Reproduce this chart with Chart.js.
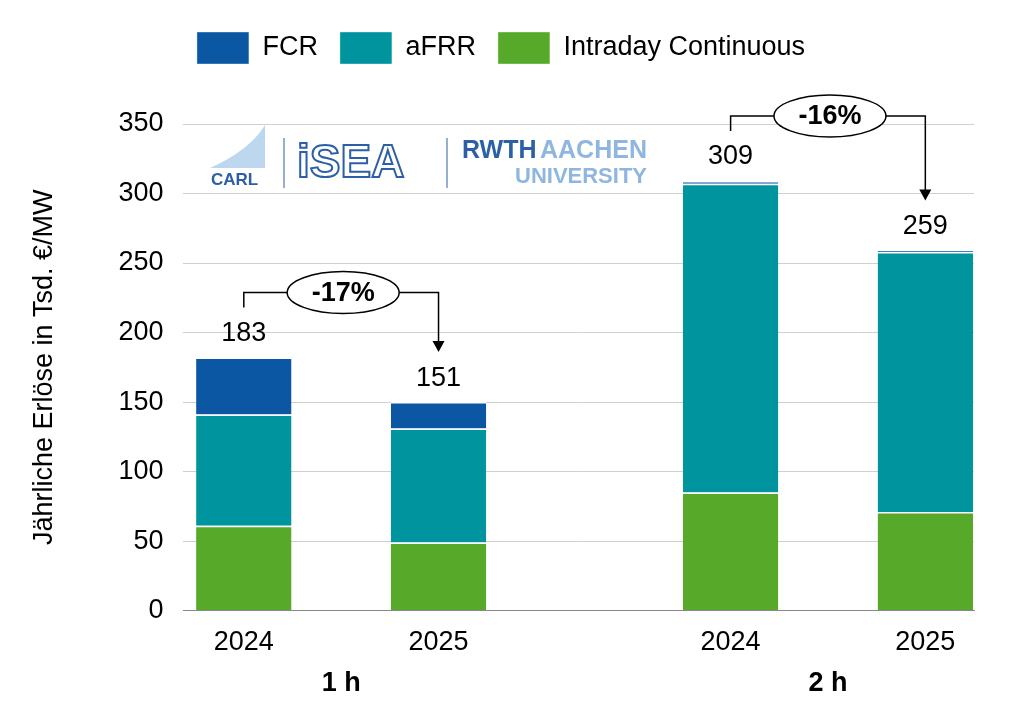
<!DOCTYPE html>
<html><head><meta charset="utf-8">
<script src="https://cdn.jsdelivr.net/npm/chart.js@4"></script>
<style>html,body{margin:0;background:#fff}#w{width:1024px;height:711px}</style>
</head><body><div id="w"><canvas id="c"></canvas></div>
<script>
const positions=[0,1,2.5,3.5];
const yearLabels=['2024','2025','2024','2025'];
const groupLabels=['1 h','2 h'];
const intraday=[61,49,85,71];
const afrr=[80,82,222,187];
const fcr=[41,19,2,1];
const totals=[183,151,309,259];
const changes=['-17%','-16%'];
const yTicks=[0,50,100,150,200,250,300,350];
const F="Liberation Sans, Arial, sans-serif";
const pts=a=>a.map((v,i)=>({x:positions[i],y:v}));
const ds=(l,d,c)=>({label:l,data:pts(d),backgroundColor:c,borderColor:'#fff',borderWidth:{top:1.5},borderSkipped:'bottom',barPercentage:0.49,categoryPercentage:1});
const ann={id:'ann',afterDatasetsDraw(ch){
 const c=ch.ctx,x=ch.scales.x,y=ch.scales.y;
 const top=i=>y.getPixelForValue(intraday[i]+afrr[i]+fcr[i]);
 c.save();c.fillStyle='#000';c.textAlign='center';c.textBaseline='middle';c.font='27px '+F;
 totals.forEach((t,i)=>c.fillText(t,x.getPixelForValue(positions[i]),top(i)-24));
 c.font='bold 27px '+F;
 c.fillText(groupLabels[0],(x.getPixelForValue(0)+x.getPixelForValue(1))/2,y.bottom+73);
 c.fillText(groupLabels[1],(x.getPixelForValue(2.5)+x.getPixelForValue(3.5))/2,y.bottom+73);
 const br=(a,b,txt)=>{const xa=x.getPixelForValue(positions[a]),xb=x.getPixelForValue(positions[b]);
  const ly=Math.min(top(a),top(b))-65;const y0=top(a)-50,y1=top(b)-50;
  c.strokeStyle='#000';c.lineWidth=1.5;c.beginPath();c.moveTo(xa,y0);c.lineTo(xa,ly);c.lineTo(xb,ly);c.lineTo(xb,y1-10);c.stroke();
  c.beginPath();c.moveTo(xb-6,y1-11);c.lineTo(xb+6,y1-11);c.lineTo(xb,y1);c.closePath();c.fill();
  const cx=(xa+xb)/2+2;c.beginPath();c.ellipse(cx,ly,56,21,0,0,Math.PI*2);c.fillStyle='#fff';c.fill();c.stroke();
  c.fillStyle='#000';c.font='bold 27px '+F;c.fillText(txt,cx,ly+1);};
 br(0,1,changes[0]);br(2,3,changes[1]);
 // logos
 c.fillStyle='#bcd7ee';c.beginPath();c.moveTo(210,168);c.quadraticCurveTo(250,150,265,125);c.lineTo(265,168);c.closePath();c.fill();
 c.fillStyle='#2d5fa6';c.font='bold 17px '+F;c.textAlign='left';c.fillText('CARL',211,180);
 c.strokeStyle='#2d5fa6';c.lineWidth=1;c.beginPath();c.moveTo(284,138);c.lineTo(284,188);c.moveTo(447,138);c.lineTo(447,188);c.stroke();
 c.font='bold 46px '+F;c.lineWidth=2;c.strokeText('iSEA',297,164);
 c.font='bold 25px '+F;c.fillStyle='#2d5fa6';c.fillText('RWTH',462,151);c.fillStyle='#8fb6e0';c.fillText('AACHEN',540,151);
 c.font='bold 22px '+F;c.fillText('UNIVERSITY',515,177);
 c.restore();}};
new Chart(document.getElementById('c'),{type:'bar',
 data:{datasets:[ds('Intraday Continuous',intraday,'#57aa29'),ds('aFRR',afrr,'#00959e'),ds('FCR',fcr,'#0b57a4')]},
 options:{responsive:true,maintainAspectRatio:false,animation:false,
  layout:{padding:{left:28,right:50,top:10,bottom:44}},
  plugins:{tooltip:{enabled:false},legend:{reverse:true,labels:{boxWidth:52,boxHeight:32,padding:22,color:'#000',font:{size:27,family:F}}}},
  scales:{
   x:{type:'linear',stacked:true,offset:false,min:-0.31,max:3.75,grid:{display:false},border:{color:'#888'},
    afterBuildTicks:s=>{s.ticks=positions.map(v=>({value:v}));},
    ticks:{color:'#000',padding:8,font:{size:27,family:F},callback:(v)=>yearLabels[positions.indexOf(v)]??''}},
   y:{stacked:true,min:0,max:350,grid:{color:'#d0d0d0',drawTicks:false},border:{display:false},
    afterBuildTicks:s=>{s.ticks=yTicks.map(v=>({value:v}));},
    ticks:{color:'#000',padding:20,font:{size:27,family:F}},
    title:{display:true,text:'Jährliche Erlöse in Tsd. €/MW',color:'#000',padding:{top:0,bottom:38},font:{size:27,family:F}}}}},
 plugins:[ann,{id:'lg',beforeInit(ch){const o=ch.legend.fit;ch.legend.fit=function(){o.call(this);this.height+=50;};}}]});
</script></body></html>
